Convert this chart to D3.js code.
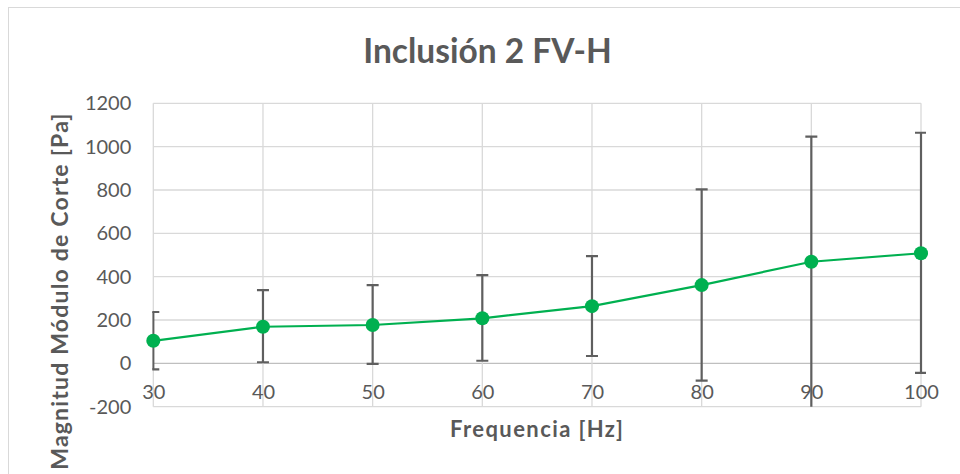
<!DOCTYPE html>
<html><head><meta charset="utf-8">
<script src="https://cdn.jsdelivr.net/npm/d3@7"></script>
<style>body{margin:0;background:#fff}svg{display:block}text{font-family:Lato,"Open Sans",sans-serif;fill:#595959}</style>
</head><body>
<svg id="c" width="960" height="474"></svg>
<script>
const frequencies = [30, 40, 50, 60, 70, 80, 90, 100];
const meanValues = [104, 169, 177, 208, 264, 361, 469, 508];
const upperValues = [237, 338, 361, 407, 495, 803, 1046, 1064];
const lowerValues = [-28, 5, -2, 12, 34, -80, -215, -44];
const yTicks = [-200, 0, 200, 400, 600, 800, 1000, 1200];
const xTicks = [30, 40, 50, 60, 70, 80, 90, 100];
const titleText = "Inclusión 2 FV-H";
const xTitle = "Frequencia [Hz]";
const yTitle = "Magnitud Módulo de Corte [Pa]";

const svg = d3.select("#c");
const L = 153.3, R = 921, T = 103.3, B = 406.7;
const x = d3.scaleLinear().domain([30, 100]).range([L, R]);
const y = d3.scaleLinear().domain([-200, 1200]).range([B, T]);

svg.append("rect").attr("x", 8.5).attr("y", 7.5).attr("width", 1000).attr("height", 600)
  .attr("fill", "#fff").attr("stroke", "#d9d9d9").attr("stroke-width", 1);

svg.append("defs").append("clipPath").attr("id", "pc").append("rect")
  .attr("x", L - 1).attr("y", T - 1).attr("width", R - L + 6).attr("height", B - T + 1);

// gridlines
const g = svg.append("g");
g.selectAll("line.h").data(yTicks).join("line")
  .attr("x1", L).attr("x2", R).attr("y1", d => y(d)).attr("y2", d => y(d))
  .attr("stroke", d => d === 0 ? "#bfbfbf" : "#d9d9d9").attr("stroke-width", 1.3);
g.selectAll("line.v").data(xTicks).join("line")
  .attr("y1", T).attr("y2", B).attr("x1", d => x(d)).attr("x2", d => x(d))
  .attr("stroke", "#d9d9d9").attr("stroke-width", 1.3);

// axes labels via d3 axes
const yAxis = svg.append("g").attr("transform", `translate(${L - 22},0)`)
  .call(d3.axisLeft(y).tickValues(yTicks).tickSize(0).tickPadding(0).tickFormat(d => String(d)));
yAxis.select(".domain").remove();
yAxis.selectAll("text").style("font-size", "20px").attr("fill", "#595959");

const xAxis = svg.append("g").attr("transform", `translate(0,${y(0)})`)
  .call(d3.axisBottom(x).tickValues(xTicks).tickSize(0).tickPadding(21).tickFormat(d => String(d)));
xAxis.select(".domain").remove();
xAxis.selectAll("text").style("font-size", "20px").attr("fill", "#595959");

// error bars
const idx = d3.range(frequencies.length);
const eb = svg.append("g").attr("clip-path", "url(#pc)").attr("stroke", "#5f5f5f").attr("stroke-width", 2.2);
eb.selectAll("line.bar").data(idx).join("line")
  .attr("x1", i => x(frequencies[i])).attr("x2", i => x(frequencies[i]))
  .attr("y1", i => y(upperValues[i])).attr("y2", i => y(lowerValues[i]));
eb.selectAll("line.capu").data(idx).join("line")
  .attr("x1", i => x(frequencies[i]) - 6).attr("x2", i => x(frequencies[i]) + 6)
  .attr("y1", i => y(upperValues[i])).attr("y2", i => y(upperValues[i]));
eb.selectAll("line.capl").data(idx).join("line")
  .attr("x1", i => x(frequencies[i]) - 6).attr("x2", i => x(frequencies[i]) + 6)
  .attr("y1", i => y(lowerValues[i])).attr("y2", i => y(lowerValues[i]));

// line + markers
const line = d3.line().x(i => x(frequencies[i])).y(i => y(meanValues[i]));
svg.append("path").attr("d", line(idx)).attr("fill", "none").attr("stroke", "#00b050").attr("stroke-width", 2.2);
svg.selectAll("circle.m").data(idx).join("circle")
  .attr("cx", i => x(frequencies[i])).attr("cy", i => y(meanValues[i])).attr("r", 7)
  .attr("fill", "#00b050");

// titles
svg.append("text").attr("x", 487.5).attr("y", 62.7).attr("text-anchor", "middle")
  .style("font-size", "33.5px").style("font-weight", "bold").text(titleText);
svg.append("text").attr("x", (L + R) / 2).attr("y", 437).attr("text-anchor", "middle")
  .style("font-size", "22px").style("font-weight", "bold").style("letter-spacing", "1.4px").text(xTitle);
svg.append("text").attr("transform", "translate(68,291) rotate(-90)").attr("text-anchor", "middle")
  .style("font-size", "23px").style("font-weight", "bold").style("letter-spacing", "1.2px").text(yTitle);
</script>
</body></html>
